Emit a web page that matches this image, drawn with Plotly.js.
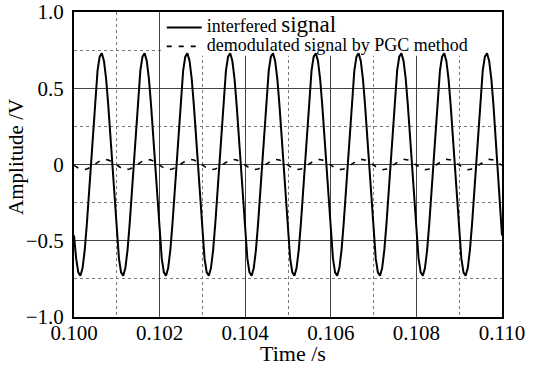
<!DOCTYPE html>
<html>
<head>
<meta charset="utf-8">
<script src="https://cdn.plot.ly/plotly-3.0.1.min.js"></script>
<style>html,body{margin:0;padding:0;background:#fff;}#chart{width:534px;height:368px;}</style>
</head>
<body>
<div id="chart"></div>
<script>
// Sampling of both traces: start time and step (s)
const timeStart = 0.100;
const timeStep = 0.00005;

// Interfered signal (V)
const interfered = [
-0.465,-0.616,-0.707,-0.729,-0.679,-0.563,-0.391,-0.182,0.046,0.269,0.465,0.616,0.707,0.729,0.679,0.563,0.391,0.182,-0.046,-0.269,
-0.465,-0.616,-0.707,-0.729,-0.679,-0.563,-0.391,-0.182,0.046,0.269,0.465,0.616,0.707,0.729,0.679,0.563,0.391,0.182,-0.046,-0.269,
-0.465,-0.616,-0.707,-0.729,-0.679,-0.563,-0.391,-0.182,0.046,0.269,0.465,0.616,0.707,0.729,0.679,0.563,0.391,0.182,-0.046,-0.269,
-0.465,-0.616,-0.707,-0.729,-0.679,-0.563,-0.391,-0.182,0.046,0.269,0.465,0.616,0.707,0.729,0.679,0.563,0.391,0.182,-0.046,-0.269,
-0.465,-0.616,-0.707,-0.729,-0.679,-0.563,-0.391,-0.182,0.046,0.269,0.465,0.616,0.707,0.729,0.679,0.563,0.391,0.182,-0.046,-0.269,
-0.465,-0.616,-0.707,-0.729,-0.679,-0.563,-0.391,-0.182,0.046,0.269,0.465,0.616,0.707,0.729,0.679,0.563,0.391,0.182,-0.046,-0.269,
-0.465,-0.616,-0.707,-0.729,-0.679,-0.563,-0.391,-0.182,0.046,0.269,0.465,0.616,0.707,0.729,0.679,0.563,0.391,0.182,-0.046,-0.269,
-0.465,-0.616,-0.707,-0.729,-0.679,-0.563,-0.391,-0.182,0.046,0.269,0.465,0.616,0.707,0.729,0.679,0.563,0.391,0.182,-0.046,-0.269,
-0.465,-0.616,-0.707,-0.729,-0.679,-0.563,-0.391,-0.182,0.046,0.269,0.465,0.616,0.707,0.729,0.679,0.563,0.391,0.182,-0.046,-0.269,
-0.465,-0.616,-0.707,-0.729,-0.679,-0.563,-0.391,-0.182,0.046,0.269,0.465,0.616,0.707,0.729,0.679,0.563,0.391,0.182,-0.046,-0.269,
-0.465
];

// Demodulated signal by PGC method (V)
const demodulated = [
-0.006,-0.016,-0.025,-0.031,-0.034,-0.033,-0.030,-0.023,-0.014,-0.004,0.006,0.016,0.025,0.031,0.034,0.033,0.030,0.023,0.014,0.004,
-0.006,-0.016,-0.025,-0.031,-0.034,-0.033,-0.030,-0.023,-0.014,-0.004,0.006,0.016,0.025,0.031,0.034,0.033,0.030,0.023,0.014,0.004,
-0.006,-0.016,-0.025,-0.031,-0.034,-0.033,-0.030,-0.023,-0.014,-0.004,0.006,0.016,0.025,0.031,0.034,0.033,0.030,0.023,0.014,0.004,
-0.006,-0.016,-0.025,-0.031,-0.034,-0.033,-0.030,-0.023,-0.014,-0.004,0.006,0.016,0.025,0.031,0.034,0.033,0.030,0.023,0.014,0.004,
-0.006,-0.016,-0.025,-0.031,-0.034,-0.033,-0.030,-0.023,-0.014,-0.004,0.006,0.016,0.025,0.031,0.034,0.033,0.030,0.023,0.014,0.004,
-0.006,-0.016,-0.025,-0.031,-0.034,-0.033,-0.030,-0.023,-0.014,-0.004,0.006,0.016,0.025,0.031,0.034,0.033,0.030,0.023,0.014,0.004,
-0.006,-0.016,-0.025,-0.031,-0.034,-0.033,-0.030,-0.023,-0.014,-0.004,0.006,0.016,0.025,0.031,0.034,0.033,0.030,0.023,0.014,0.004,
-0.006,-0.016,-0.025,-0.031,-0.034,-0.033,-0.030,-0.023,-0.014,-0.004,0.006,0.016,0.025,0.031,0.034,0.033,0.030,0.023,0.014,0.004,
-0.006,-0.016,-0.025,-0.031,-0.034,-0.033,-0.030,-0.023,-0.014,-0.004,0.006,0.016,0.025,0.031,0.034,0.033,0.030,0.023,0.014,0.004,
-0.006,-0.016,-0.025,-0.031,-0.034,-0.033,-0.030,-0.023,-0.014,-0.004,0.006,0.016,0.025,0.031,0.034,0.033,0.030,0.023,0.014,0.004,
-0.006
];

// Axis ticks
const xTickVals = [0.100, 0.102, 0.104, 0.106, 0.108, 0.110];
const xTickText = ['0.100', '0.102', '0.104', '0.106', '0.108', '0.110'];
const yTickVals = [-1.0, -0.5, 0, 0.5, 1.0];
const yTickText = ['\u22121.0', '\u22120.5', '0', '0.5', '1.0'];

// Texts
const seriesNames = [
  '<span style="font-size:18px">interfered </span><span style="font-size:23px">signal</span>',
  '<span style="font-size:18px">demodulated signal by PGC method</span>'
];
const xTitle = 'Time /s';
const yTitle = 'Amplitude /V';

const FONT = "'Liberation Serif', 'Times New Roman', serif";

const traces = [
  {
    type: 'scatter', mode: 'lines', name: seriesNames[0],
    x0: timeStart, dx: timeStep, y: interfered,
    line: {color: '#000', width: 2}
  },
  {
    type: 'scatter', mode: 'lines', name: seriesNames[1],
    x0: timeStart, dx: timeStep, y: demodulated,
    line: {color: '#000', width: 1.6, dash: '5px,7px'}
  }
];

const layout = {
  width: 534, height: 368,
  margin: {l: 74, r: 32, t: 12, b: 50.5, pad: 0, autoexpand: false},
  paper_bgcolor: '#fff', plot_bgcolor: '#fff',
  font: {family: FONT, size: 21, color: '#000'},
  showlegend: true,
  legend: {
    x: 0.205, y: 0.997, xanchor: 'left', yanchor: 'top',
    bgcolor: 'rgba(0,0,0,0)', borderwidth: 0,
    font: {family: FONT, size: 11, color: '#000'},
    itemwidth: 35, tracegroupgap: 0
  },
  xaxis: {
    range: [0.100, 0.110],
    tickmode: 'array', tickvals: xTickVals, ticktext: xTickText,
    ticks: '', ticklabelstandoff: -4,
    showgrid: true, gridcolor: '#444', gridwidth: 1,
    minor: {tick0: 0.101, dtick: 0.002, showgrid: true, gridcolor: '#777', gridwidth: 1, griddash: '3px,3px', ticks: ''},
    zeroline: false,
    showline: true, mirror: true, linecolor: '#000', linewidth: 2,
    tickfont: {family: FONT, size: 21, color: '#000'}
  },
  yaxis: {
    range: [-1.0, 1.0],
    tickmode: 'array', tickvals: yTickVals, ticktext: yTickText,
    ticks: '', ticklabelstandoff: 4,
    showgrid: true, gridcolor: '#444', gridwidth: 1,
    minor: {tick0: 0.25, dtick: 0.5, showgrid: true, gridcolor: '#777', gridwidth: 1, griddash: '3px,3px', ticks: ''},
    zeroline: false,
    showline: true, mirror: true, linecolor: '#000', linewidth: 2,
    tickfont: {family: FONT, size: 21, color: '#000'}
  },
  shapes: [
    {type: 'rect', xref: 'x', yref: 'y', x0: 0.10205, x1: 0.110, y0: 0.713, y1: 1.0,
     fillcolor: '#fff', line: {width: 0}, layer: 'between'}
  ],
  annotations: [
    {text: yTitle, xref: 'paper', yref: 'paper', x: -0.1355, y: 0.525,
     xanchor: 'center', yanchor: 'middle', textangle: -90, showarrow: false,
     font: {family: FONT, size: 21, color: '#000'}},
    {text: xTitle, xref: 'paper', yref: 'paper', x: 0.5117, y: -0.12,
     xanchor: 'center', yanchor: 'middle', showarrow: false,
     font: {family: FONT, size: 22, color: '#000'}}
  ]
};

Plotly.newPlot('chart', traces, layout, {displayModeBar: false, staticPlot: true});
</script>
</body>
</html>
